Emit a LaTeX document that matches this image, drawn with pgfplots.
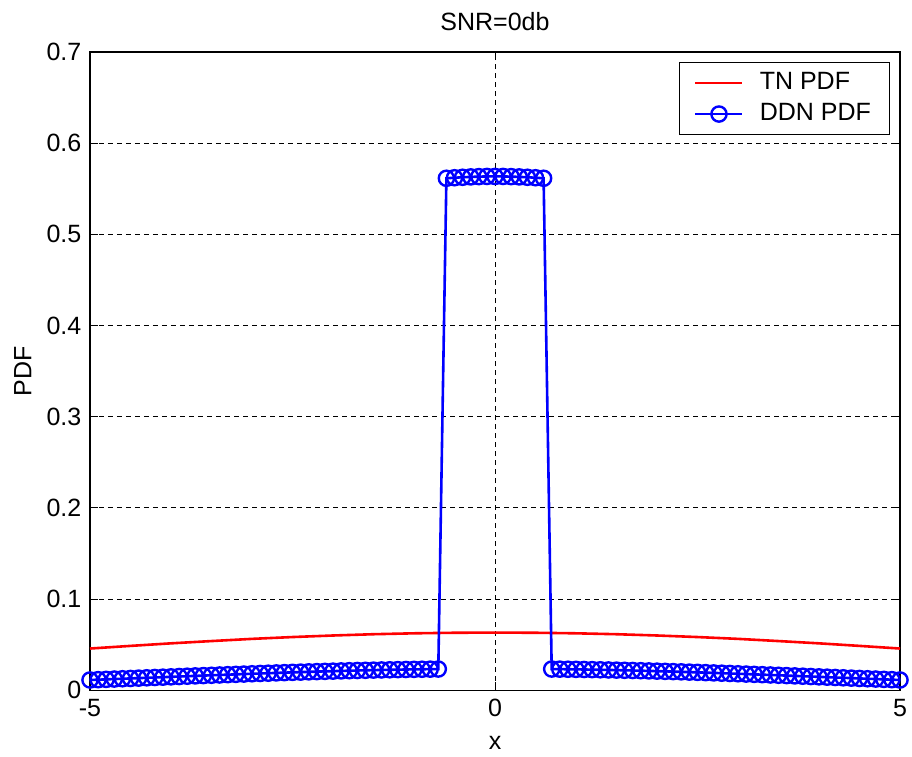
\documentclass[border=0pt]{standalone}
\usepackage{pgfplots}
\pgfplotsset{compat=1.18}
\usepackage{fontspec}
\setmainfont{Liberation Sans}
\begin{document}
\fontsize{12.5}{14.5}\selectfont
\begin{tikzpicture}
\useasboundingbox (-45pt,-33pt) rectangle (411pt,345.1pt);
\begin{axis}[
  at={(0,0)}, anchor=south west,
  scale only axis,
  width=405pt, height=319.1pt,
  xmin=-5, xmax=5, ymin=0, ymax=0.7,
  xtick={-5,0,5},
  ytick={0,0.1,0.2,0.3,0.4,0.5,0.6,0.7},
  yticklabels={0,0.1,0.2,0.3,0.4,0.5,0.6,0.7},
  /pgf/number format/assume math mode=true,
  tick label style={font=\fontsize{12.5}{14.5}\selectfont},
  label style={font=\fontsize{12.5}{14.5}\selectfont},
  title style={font=\fontsize{12.5}{14.5}\selectfont, at={(axis description cs:0.5,1)}, anchor=base, yshift=4.5pt},
  title={SNR=0db},
  xlabel={x},
  ylabel={PDF},
  xlabel style={at={(axis description cs:0.5,-0.082)}, anchor=center},
  ylabel style={at={(axis description cs:-0.083,0.5)}, anchor=center},
  tick align=inside,
  major tick length=4pt,
  tick style={black, line width=0.5pt},
  axis line style={black, line width=0.6pt},
  grid=major,
  major grid style={black, line width=0.4pt, dash pattern=on 2.5pt off 2pt},
  legend cell align=left,
  legend style={at={(axis description cs:0.988,0.984)}, anchor=north east,
    draw=black, font=\fontsize{12.5}{14.5}\selectfont,
    inner xsep=7.5pt, inner ysep=3pt, row sep=1pt,
    /tikz/every odd column/.append style={column sep=6pt}},
  legend image code/.code={
    \draw[line width=1.3pt, mark repeat=2, mark phase=2] plot coordinates {(0pt,0pt) (11.75pt,0pt) (23.5pt,0pt)};
  },
]
\addplot[red, line width=1.3pt] coordinates {
(-5,0.0457) (-4.5,0.0486) (-4,0.0514) (-3.5,0.0539) (-3,0.0563) (-2.5,0.0583)
(-2,0.0600) (-1.5,0.0614) (-1,0.0624) (-0.5,0.0630) (0,0.0632)
(0.5,0.0630) (1,0.0624) (1.5,0.0614) (2,0.0600) (2.5,0.0583) (3,0.0563)
(3.5,0.0539) (4,0.0514) (4.5,0.0486) (5,0.0457)
};
\addlegendentry{TN PDF}
\addplot[blue, line width=1.3pt, mark=o, mark size=3.8pt, mark options={line width=1.2pt}] coordinates {
(-5.0,0.01121) (-4.9,0.01154) (-4.8,0.01188) (-4.7,0.01222) (-4.6,0.01256)
(-4.5,0.01291) (-4.4,0.01325) (-4.3,0.01360) (-4.2,0.01395) (-4.1,0.01429)
(-4.0,0.01464) (-3.9,0.01499) (-3.8,0.01534) (-3.7,0.01568) (-3.6,0.01602)
(-3.5,0.01637) (-3.4,0.01670) (-3.3,0.01704) (-3.2,0.01737) (-3.1,0.01770)
(-3.0,0.01802) (-2.9,0.01834) (-2.8,0.01865) (-2.7,0.01896) (-2.6,0.01926)
(-2.5,0.01956) (-2.4,0.01984) (-2.3,0.02012) (-2.2,0.02039) (-2.1,0.02065)
(-2.0,0.02091) (-1.9,0.02115) (-1.8,0.02138) (-1.7,0.02161) (-1.6,0.02182)
(-1.5,0.02202) (-1.4,0.02221) (-1.3,0.02239) (-1.2,0.02256) (-1.1,0.02271)
(-1.0,0.02285) (-0.9,0.02298) (-0.8,0.02310) (-0.7,0.02320)
(-0.6,0.5615) (-0.5,0.5621) (-0.4,0.5626) (-0.3,0.5630) (-0.2,0.5633) (-0.1,0.5635)
(0.0,0.5635)
(0.1,0.5635) (0.2,0.5633) (0.3,0.5630) (0.4,0.5626) (0.5,0.5621) (0.6,0.5615)
(0.7,0.02320) (0.8,0.02310) (0.9,0.02298) (1.0,0.02285)
(1.1,0.02271) (1.2,0.02256) (1.3,0.02239) (1.4,0.02221) (1.5,0.02202)
(1.6,0.02182) (1.7,0.02161) (1.8,0.02138) (1.9,0.02115) (2.0,0.02091)
(2.1,0.02065) (2.2,0.02039) (2.3,0.02012) (2.4,0.01984) (2.5,0.01956)
(2.6,0.01926) (2.7,0.01896) (2.8,0.01865) (2.9,0.01834) (3.0,0.01802)
(3.1,0.01770) (3.2,0.01737) (3.3,0.01704) (3.4,0.01670) (3.5,0.01637)
(3.6,0.01602) (3.7,0.01568) (3.8,0.01534) (3.9,0.01499) (4.0,0.01464)
(4.1,0.01429) (4.2,0.01395) (4.3,0.01360) (4.4,0.01325) (4.5,0.01291)
(4.6,0.01256) (4.7,0.01222) (4.8,0.01188) (4.9,0.01154) (5.0,0.01121)
};
\addlegendentry{DDN PDF}
\end{axis}
\end{tikzpicture}
\end{document}
